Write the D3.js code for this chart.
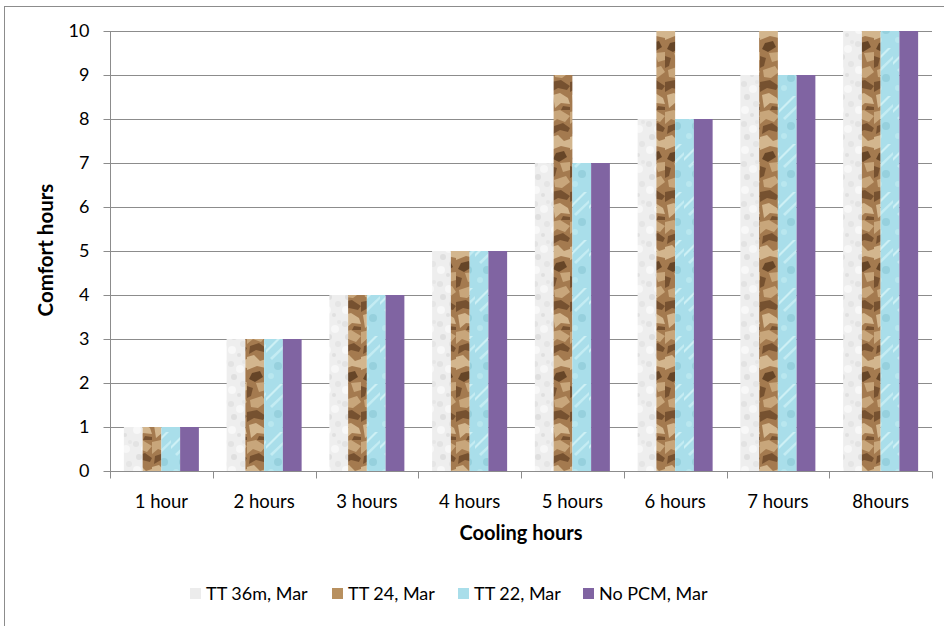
<!DOCTYPE html>
<html><head><meta charset="utf-8">
<script src="https://cdn.jsdelivr.net/npm/d3@7"></script>
<style>body{margin:0;background:#fff;} text{font-family:Lato,"Open Sans",sans-serif;}</style>
</head><body>
<svg id="c" width="944" height="626"></svg>
<script>
const categories = ["1 hour","2 hours","3 hours","4 hours","5 hours","6 hours","7 hours","8hours"];
const seriesNames = ["TT 36m, Mar","TT 24, Mar","TT 22, Mar","No PCM, Mar"];
const tt36m = [1,3,4,5,7,8,9,10];
const tt24 = [1,3,4,5,9,10,10,10];
const tt22 = [1,3,4,5,7,8,9,10];
const noPcm = [1,3,4,5,7,8,9,10];
const yTicks = [0,1,2,3,4,5,6,7,8,9,10];
const allSeries = [tt36m, tt24, tt22, noPcm];

(function(){
const svg = d3.select("#c");
const defs = svg.append("defs");

function marble(id){
  const p = defs.append("pattern").attr("id",id).attr("patternUnits","userSpaceOnUse").attr("width",19).attr("height",40);
  p.append("rect").attr("width",19).attr("height",40).attr("fill","#eeeeee");
  const spots=[[3,4,3,"#e3e3e3"],[12,9,4,"#f7f7f7"],[6,17,3,"#dfdfdf"],[15,24,3,"#e5e5e5"],[4,30,4,"#f8f8f8"],[11,35,2,"#e0e0e0"],[16,2,2,"#e6e6e6"]];
  spots.forEach(s=>p.append("circle").attr("cx",s[0]).attr("cy",s[1]).attr("r",s[2]).attr("fill",s[3]));
}
function brown(id){
  const p = defs.append("pattern").attr("id",id).attr("patternUnits","userSpaceOnUse").attr("width",19).attr("height",110);
  p.append("rect").attr("width",19).attr("height",110).attr("fill","#a47a4f");
  const light="#cfae83", lighter="#dcc199", dark="#6e4a2a", darker="#5c3c20";
  [["M0,2 L9,0 L19,6 L14,12 L6,9 L0,14Z",light],
   ["M3,16 L12,13 L19,18 L17,22 L9,20 L2,24Z",dark],
   ["M0,27 L7,25 L13,31 L19,29 L19,38 L10,36 L0,40Z",lighter],
   ["M5,43 L13,41 L16,47 L8,52 L2,49Z",darker],
   ["M9,53 L19,52 L19,60 L12,62Z",light],
   ["M0,56 L6,58 L4,66 L0,68Z",dark],
   ["M3,70 L15,66 L19,72 L11,78 L4,77Z",light],
   ["M0,82 L10,80 L19,86 L16,90 L7,88 L0,92Z",dark],
   ["M2,95 L9,93 L17,98 L19,104 L10,103 L4,108Z",lighter],
   ["M12,106 L19,107 L19,110 L10,110Z",dark]
  ].forEach(s=>p.append("path").attr("d",s[0]).attr("fill",s[1]).attr("opacity",0.85));
}
function cyan(id){
  const p = defs.append("pattern").attr("id",id).attr("patternUnits","userSpaceOnUse").attr("width",19).attr("height",48);
  p.append("rect").attr("width",19).attr("height",48).attr("fill","#a9deea");
  p.append("path").attr("d","M0,14 L14,0 L17,0 L0,17Z").attr("fill","#cdf0f5");
  p.append("path").attr("d","M4,22 L19,8 L19,11 L6,24Z").attr("fill","#c4ecf3");
  p.append("circle").attr("cx",12).attr("cy",30).attr("r",4).attr("fill","#96d0dd");
  p.append("circle").attr("cx",5).attr("cy",40).attr("r",3).attr("fill","#b9e7ef");
}
marble("p0"); brown("p1"); cyan("p2");
const fills = ["url(#p0)","url(#p1)","url(#p2)","#8064a2"];
const legendFills = ["#ececec","#b8905f","#a9deea","#8064a2"];

svg.append("rect").attr("x",4.5).attr("y",6.5).attr("width",960).attr("height",640)
  .attr("fill","none").attr("stroke","#8c8c8c").attr("stroke-width",1);

const pl=110, pr=932, pt=31, pb=471;
const x = d3.scaleBand().domain(categories).range([pl,pr]);
const gap = (x.bandwidth()-75)/2;
const xs = d3.scaleBand().domain(d3.range(4)).range([gap, x.bandwidth()-gap]);
const y = d3.scaleLinear().domain([0,10]).range([pb,pt]);

svg.append("g").selectAll("line").data(yTicks.filter(d=>d>0)).join("line")
  .attr("x1",pl).attr("x2",pr).attr("y1",d=>Math.round(y(d))+0.5).attr("y2",d=>Math.round(y(d))+0.5)
  .attr("stroke","#8c8c8c").attr("stroke-width",1);

allSeries.forEach((vals,si)=>{
  svg.append("g").selectAll("rect").data(vals).join("rect")
    .attr("x",(d,i)=>x(categories[i])+xs(si))
    .attr("y",d=>y(d))
    .attr("width",xs.bandwidth())
    .attr("height",d=>y(0)-y(d))
    .attr("fill",fills[si]);
});

const ya = svg.append("g").attr("transform",`translate(${pl+0.5},0)`)
  .call(d3.axisLeft(y).tickValues(yTicks).tickSize(7).tickPadding(14).tickFormat(d3.format("d")));
ya.select(".domain").attr("stroke","#8c8c8c").attr("d",`M0,${pt}V${pb}`);
ya.selectAll(".tick line").attr("stroke","#8c8c8c");
ya.selectAll(".tick text").attr("font-size",18).attr("fill","#000").attr("font-family","Lato");

const xa = svg.append("g").attr("transform",`translate(0,${pb+0.5})`);
xa.append("line").attr("x1",pl).attr("x2",pr).attr("stroke","#8c8c8c");
xa.selectAll("line.t").data(d3.range(categories.length+1)).join("line").attr("class","t")
  .attr("x1",i=>Math.round(pl+i*x.bandwidth())+0.5).attr("x2",i=>Math.round(pl+i*x.bandwidth())+0.5)
  .attr("y1",0).attr("y2",7).attr("stroke","#8c8c8c");
xa.selectAll("text").data(categories).join("text")
  .attr("x",d=>x(d)+x.bandwidth()/2).attr("y",36).attr("text-anchor","middle")
  .attr("font-size",18.5).attr("fill","#000").text(d=>d);

svg.append("text").attr("x",521).attr("y",540).attr("text-anchor","middle")
  .attr("font-size",20).attr("font-weight","bold").text("Cooling hours");
svg.append("text").attr("transform","translate(53,250) rotate(-90)").attr("text-anchor","middle")
  .attr("font-size",20.5).attr("font-weight","bold").text("Comfort hours");

const legX = [190,332,458,583];
const lg = svg.append("g");
seriesNames.forEach((n,i)=>{
  lg.append("rect").attr("x",legX[i]).attr("y",588).attr("width",11).attr("height",11).attr("fill",legendFills[i]);
  lg.append("text").attr("x",legX[i]+16).attr("y",600).attr("font-size",18).attr("fill","#000").text(n);
});
})();
</script>
</body></html>
